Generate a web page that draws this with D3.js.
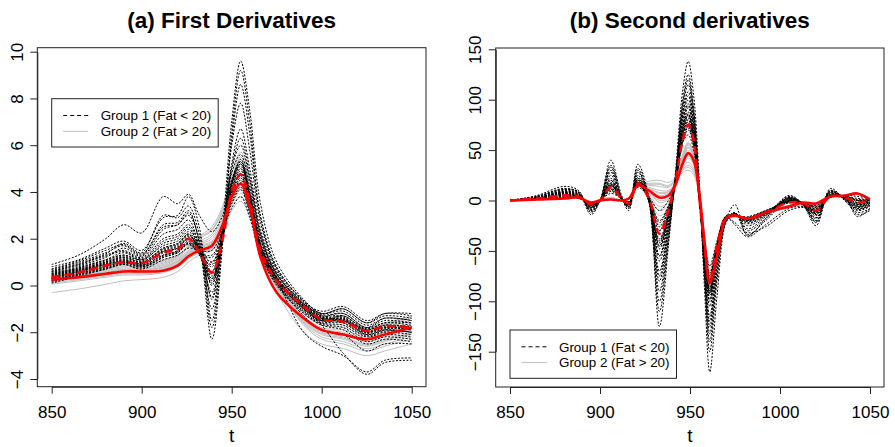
<!DOCTYPE html>
<html>
<head>
<meta charset="utf-8">
<script src="https://cdn.jsdelivr.net/npm/d3@7"></script>
<style>
  body { margin: 0; background: #fff; }
  svg { display: block; font-family: "Liberation Sans", Arial, Helvetica, sans-serif; }
</style>
</head>
<body>
<svg id="chart" width="895" height="447"></svg>
<script>
const T_FIRST = [850, 865, 880, 890, 900, 912, 920, 926, 932, 939, 945, 950, 955, 960, 966, 975, 990, 1000, 1012, 1025, 1035, 1050];
const T_SECOND = [850, 865, 880, 888, 895, 900, 906, 912, 916, 921, 927, 933, 938, 942, 946, 949, 952, 955, 958, 961, 965, 970, 975, 982, 992, 1005, 1013, 1020, 1028, 1036, 1043, 1050];

const X_TICKS = [850, 900, 950, 1000, 1050];
const Y_TICKS_FIRST = [-4, -2, 0, 2, 4, 6, 8, 10];
const Y_TICKS_SECOND = [-150, -100, -50, 0, 50, 100, 150];

// (a) first derivatives, group 1 (Fat < 20)
const FIRST_G1 = [
  [0.9, 1.3, 2.0, 2.6, 2.25, 3.8, 3.5, 3.9, 3.0, 2.3, 3.0, 4.5, 5.3, 3.8, 2.0, 0.5, -0.9, -1.7, -2.9, -3.8, -3.3, -3.2],
  [0.8, 1.1, 1.6, 1.9, 1.5, 2.9, 3.0, 3.8, 2.5, -1.5, 2.5, 7.0, 9.6, 7.5, 3.5, 1.0, -0.6, -1.2, -1.0, -1.6, -1.2, -1.3],
  [0.7, 1.0, 1.4, 1.7, 1.3, 2.6, 2.7, 3.2, 1.8, -2.3, 1.8, 6.5, 9.2, 7.0, 3.0, 0.8, -0.7, -1.3, -1.2, -1.8, -1.4, -1.5],
  [0.6, 0.9, 1.3, 1.5, 1.2, 2.2, 2.4, 2.8, 1.6, -1.0, 2.0, 5.2, 6.7, 5.0, 2.4, 0.6, -0.8, -1.4, -1.4, -2.0, -1.7, -1.8],
  [0.5, 0.8, 1.1, 1.4, 1.1, 1.9, 2.1, 2.5, 1.5, -0.3, 2.3, 4.8, 5.6, 4.2, 2.0, 0.4, -0.9, -1.5, -1.5, -2.1, -1.9, -2.0],
  [0.4, 0.7, 1.0, 1.2, 1.0, 1.6, 1.8, 2.2, 1.4, 0.3, 2.0, 4.2, 5.0, 3.7, 1.7, 0.3, -0.9, -1.4, -1.6, -2.2, -2.0, -2.1],
  [0.3, 0.6, 0.9, 1.1, 0.9, 1.4, 1.6, 2.0, 1.5, 0.8, 2.1, 3.9, 4.6, 3.4, 1.5, 0.2, -1.0, -1.5, -1.4, -2.0, -1.8, -1.9],
  [0.2, 0.5, 0.8, 1.0, 0.8, 1.2, 1.4, 1.8, 1.4, 1.2, 2.3, 3.6, 4.2, 3.2, 1.4, 0.1, -1.1, -1.6, -1.7, -2.3, -2.1, -2.2],
  [0.1, 0.4, 0.7, 0.9, 0.7, 1.1, 1.3, 1.6, 1.5, 1.5, 2.4, 3.3, 3.8, 2.9, 1.3, 0.0, -1.2, -1.7, -1.9, -2.5, -2.3, -2.4],
  [0.55, 0.85, 1.2, 1.6, 1.25, 2.4, 2.6, 3.0, 2.0, 0.0, 2.4, 5.0, 6.0, 4.5, 2.2, 0.5, -0.8, -1.2, -1.1, -1.7, -1.4, -1.5],
  [0.45, 0.75, 1.05, 1.3, 1.05, 1.8, 2.0, 2.4, 1.7, 0.6, 2.2, 4.4, 5.2, 3.9, 1.8, 0.3, -2.0, -2.6, -3.0, -3.7, -3.2, -3.1],
  [0.35, 0.65, 0.95, 1.15, 0.95, 1.5, 1.7, 2.1, 1.6, 1.0, 2.2, 4.0, 4.8, 3.6, 1.6, 0.2, -0.95, -1.4, -1.5, -2.1, -1.9, -2.0],
  [0.25, 0.55, 0.85, 1.05, 0.85, 1.3, 1.5, 1.9, 1.3, 0.2, 2.0, 4.3, 5.4, 4.0, 1.8, 0.3, -1.0, -1.5, -1.3, -1.9, -1.6, -1.6],
  [0.65, 0.95, 1.35, 1.8, 1.4, 3.0, 2.9, 3.4, 2.2, -0.6, 2.2, 6.0, 7.8, 5.8, 2.7, 0.7, -0.7, -1.1, -0.9, -1.5, -1.2, -1.2],
  [0.3, 0.6, 0.9, 1.05, 0.95, 1.45, 1.6, 2.05, 1.45, 0.4, 2.1, 4.1, 4.9, 3.7, 1.6, 0.25, -0.85, -1.35, -1.45, -1.9, -1.7, -1.75],
  [0.4, 0.65, 0.95, 1.2, 1.0, 1.55, 1.75, 2.2, 1.5, 0.1, 2.0, 4.5, 5.3, 3.9, 1.7, 0.3, -0.8, -1.3, -1.3, -1.85, -1.6, -1.7],
  [0.2, 0.45, 0.75, 0.95, 0.85, 1.3, 1.45, 1.85, 1.45, 1.0, 2.2, 3.8, 4.4, 3.3, 1.45, 0.15, -1.05, -1.55, -1.6, -2.15, -1.95, -2.0],
  [0.5, 0.75, 1.1, 1.3, 1.1, 1.7, 1.9, 2.3, 1.6, 0.5, 2.1, 4.3, 5.1, 3.8, 1.7, 0.35, -0.85, -1.35, -1.35, -1.95, -1.75, -1.85],
  [0.15, 0.45, 0.7, 0.9, 0.75, 1.2, 1.4, 1.75, 1.4, 1.3, 2.35, 3.5, 4.1, 3.1, 1.35, 0.05, -1.15, -1.65, -1.8, -2.4, -2.2, -2.3],
  [0.6, 0.9, 1.25, 1.45, 1.15, 2.0, 2.2, 2.6, 1.7, -0.5, 2.1, 5.0, 6.3, 4.7, 2.2, 0.5, -0.75, -1.25, -1.2, -1.8, -1.5, -1.6],
  [0.35, 0.6, 0.9, 1.1, 0.9, 1.45, 1.65, 2.0, 1.35, 0.6, 2.15, 4.0, 4.7, 3.5, 1.55, 0.2, -0.95, -1.45, -1.5, -2.05, -1.85, -1.9],
  [0.45, 0.7, 1.0, 1.25, 1.0, 1.6, 1.8, 2.15, 1.55, 0.3, 2.05, 4.3, 5.2, 3.9, 1.75, 0.3, -0.9, -1.4, -1.45, -2.0, -1.8, -1.85],
  [0.7, 1.05, 1.5, 1.75, 1.35, 2.5, 2.6, 3.1, 1.9, -1.8, 1.9, 6.2, 8.6, 6.5, 2.9, 0.75, -0.65, -1.2, -1.0, -1.6, -1.3, -1.4],
  [0.25, 0.5, 0.8, 1.0, 0.8, 1.25, 1.45, 1.8, 1.35, 0.9, 2.2, 3.8, 4.5, 3.4, 1.5, 0.15, -1.3, -1.9, -2.1, -2.8, -2.5, -2.5]
];

// (a) first derivatives, group 2 (Fat > 20)
const FIRST_G2 = [
  [0.6, 0.7, 0.9, 1.0, 0.9, 1.1, 1.3, 1.7, 2.1, 2.5, 3.4, 4.8, 5.7, 4.6, 2.2, 0.4, -0.9, -1.4, -1.5, -1.8, -1.6, -1.3],
  [0.45, 0.6, 0.75, 0.85, 0.8, 0.95, 1.2, 1.6, 1.9, 2.2, 3.1, 4.4, 5.2, 4.2, 2.0, 0.3, -1.1, -1.6, -1.7, -2.0, -1.8, -1.5],
  [0.35, 0.5, 0.65, 0.75, 0.7, 0.85, 1.1, 1.45, 1.75, 2.0, 2.8, 4.1, 4.8, 3.9, 1.8, 0.2, -1.3, -1.8, -1.9, -2.2, -2.0, -1.7],
  [0.25, 0.4, 0.55, 0.65, 0.62, 0.75, 1.0, 1.35, 1.6, 1.8, 2.6, 3.8, 4.4, 3.6, 1.6, 0.1, -1.4, -1.9, -2.1, -2.4, -2.2, -1.9],
  [0.15, 0.3, 0.45, 0.55, 0.55, 0.65, 0.9, 1.25, 1.5, 1.65, 2.4, 3.6, 4.1, 3.4, 1.4, 0.0, -1.6, -2.1, -2.3, -2.6, -2.4, -2.1],
  [0.05, 0.2, 0.35, 0.45, 0.45, 0.55, 0.8, 1.15, 1.4, 1.55, 2.2, 3.4, 3.8, 3.2, 1.3, -0.1, -1.7, -2.3, -2.5, -2.8, -2.6, -2.3],
  [-0.3, -0.15, 0.05, 0.2, 0.25, 0.35, 0.6, 1.0, 1.3, 1.5, 2.1, 3.2, 3.6, 3.0, 1.2, -0.3, -2.0, -2.5, -2.7, -3.0, -2.8, -2.5],
  [0.3, 0.45, 0.6, 0.7, 0.66, 0.8, 1.05, 1.4, 1.7, 1.9, 2.7, 3.9, 4.6, 3.7, 1.7, 0.15, -1.35, -1.85, -2.0, -2.3, -2.1, -1.8],
  [0.5, 0.65, 0.8, 0.9, 0.85, 1.0, 1.25, 1.65, 2.0, 2.35, 3.2, 4.5, 5.4, 4.4, 2.1, 0.35, -1.0, -1.5, -1.6, -1.9, -1.7, -1.4],
  [0.2, 0.35, 0.5, 0.6, 0.58, 0.7, 0.95, 1.3, 1.55, 1.7, 2.5, 3.7, 4.3, 3.5, 1.5, 0.05, -1.5, -2.0, -2.2, -2.5, -2.3, -2.0],
  [0.4, 0.55, 0.7, 0.8, 0.75, 0.9, 1.15, 1.5, 1.8, 2.1, 2.9, 4.2, 5.0, 4.0, 1.9, 0.25, -1.2, -1.7, -1.8, -2.1, -1.9, -1.6],
  [0.3, 0.42, 0.58, 0.68, 0.64, 0.78, 1.02, 1.38, 1.65, 1.85, 2.65, 3.85, 4.5, 3.65, 1.65, 0.1, -1.45, -1.95, -2.05, -2.35, -2.15, -1.85],
  [0.1, 0.25, 0.4, 0.5, 0.5, 0.6, 0.85, 1.2, 1.45, 1.6, 2.3, 3.5, 3.95, 3.3, 1.35, -0.05, -1.65, -2.2, -2.4, -2.7, -2.5, -2.2],
  [0.55, 0.68, 0.85, 0.95, 0.88, 1.05, 1.28, 1.68, 2.05, 2.4, 3.3, 4.6, 5.5, 4.5, 2.15, 0.4, -0.95, -1.45, -1.55, -1.85, -1.65, -1.35],
  [0.2, 0.32, 0.48, 0.58, 0.56, 0.68, 0.92, 1.28, 1.52, 1.7, 2.45, 3.65, 4.2, 3.45, 1.45, 0.0, -1.55, -2.05, -2.25, -2.55, -2.35, -2.05]
];

const FIRST_MEAN_G1 = [0.35, 0.55, 0.85, 1.0, 0.95, 1.4, 1.55, 2.0, 1.4, 0.55, 2.0, 4.0, 4.75, 3.6, 1.5, 0.2, -0.9, -1.45, -1.55, -1.95, -1.75, -1.8];
const FIRST_MEAN_G2 = [0.25, 0.35, 0.5, 0.6, 0.6, 0.63, 0.85, 1.25, 1.5, 1.7, 2.6, 3.8, 4.35, 3.4, 1.2, -0.3, -1.4, -1.9, -2.1, -2.3, -2.1, -1.8];

// (b) second derivatives, group 1 (Fat < 20)
const SECOND_G1 = [
  [0, 5, 14, 10, -12, 0, 40, 5, -8, 36, 5, -125, -45, 30, 110, 138, 105, 25, -85, -170, -95, -20, -4, -35, -18, 5, -5, -25, 12, 0, -12, -8],
  [0, 4, 12, 8, -14, 0, 35, 3, -10, 30, 0, -110, -40, 25, 100, 125, 92, 18, -75, -150, -80, -22, -12, -34, -20, 0, -5, -22, 10, 0, -10, -6],
  [0, 3, 10, 7, -10, 0, 28, 2, -6, 25, 2, -90, -32, 25, 92, 115, 85, 15, -68, -132, -70, -20, -12, -28, -16, 3, -4, -18, 9, 2, -8, -4],
  [0, 3, 9, 6, -8, 0, 22, 2, -5, 22, 0, -70, -25, 22, 84, 100, 76, 11, -60, -115, -60, -18, -13, -22, -14, 4, -3, -15, 8, 3, -6, -3],
  [0, 2, 8, 5, -6, 0, 18, 1, -4, 20, 0, -55, -20, 20, 78, 94, 70, 8, -55, -100, -55, -18, -14, -20, -12, 2, -3, -12, 6, 3, -4, -2],
  [0, 2, 7, 4, -5, 0, 15, 1, -3, 18, 1, -40, -14, 20, 72, 85, 65, 5, -50, -90, -50, -17, -14, -19, -12, 0, -3, -10, 5, 3, -2, -1],
  [0, 1, 5, 3, -4, 0, 12, 2, -2, 16, 2, -30, -9, 18, 66, 78, 60, 5, -46, -80, -45, -16, -15, -18, -11, -2, -3, -8, 4, 4, 0, 0],
  [0, 1, 4, 3, -3, 0, 10, 2, -2, 15, 3, -20, -5, 18, 62, 72, 55, 3, -42, -72, -42, -16, -15, -17, -10, -1, -2, -6, 3, 4, 2, 1],
  [0, 1, 3, 2, -2, 0, 7, 2, -1, 13, 4, -10, 0, 18, 58, 65, 50, 3, -40, -65, -40, -15, -15, -16, -10, -2, -3, -5, 3, 5, 4, 2],
  [0, 4, 11, 8, -9, 0, 30, 3, -6, 28, 3, -80, -28, 22, 88, 108, 80, 12, -64, -125, -66, -19, -13, -25, -15, 2, -4, -20, 9, 1, -8, -5],
  [0, 2, 8, 5, -7, 0, 20, 1, -4, 21, 1, -60, -22, 21, 80, 96, 72, 8, -57, -105, -56, -17, -14, -21, -13, 1, -3, -14, 7, 2, -5, -2],
  [0, 2, 6, 4, -5, 0, 14, 2, -3, 17, 1, -45, -16, 20, 74, 88, 64, 6, -51, -92, -50, -17, -24, -36, -24, -8, -6, -12, 6, 3, -14, -10],
  [0, 2, 6, 4, -4, 0, 15, 2, -3, 18, 2, -38, -12, 20, 64, 80, 62, 6, -48, -86, -48, -17, -15, -18, -12, -1, -3, -10, 5, 3, 0, 0],
  [0, 2, 5, 4, -4, 0, 12, 2, -3, 17, 3, -30, -9, 19, 60, 74, 58, 5, -45, -80, -46, -16, -15, -18, -12, -2, -3, -9, 4, 4, -2, 0],
  [0, 3, 7, 5, -5, 0, 17, 2, -4, 19, 2, -45, -15, 21, 70, 86, 66, 7, -50, -92, -50, -17, -14, -19, -12, 0, -3, -11, 5, 3, -3, -1],
  [0, 1, 4, 3, -3, 0, 9, 2, -2, 15, 3, -22, -6, 18, 58, 70, 55, 4, -42, -75, -44, -16, -15, -17, -11, -1, -2, -7, 4, 4, 1, 1],
  [0, 2, 6, 4, -5, 0, 16, 2, -3, 18, 2, -42, -14, 20, 66, 82, 63, 6, -48, -88, -48, -17, -15, -19, -12, -1, -3, -11, 5, 3, -4, -1],
  [0, 3, 8, 6, -6, 0, 20, 2, -4, 20, 1, -55, -18, 21, 75, 92, 70, 8, -54, -98, -52, -18, -14, -20, -13, 1, -3, -13, 6, 3, -6, -2],
  [0, 1, 5, 3, -3, 0, 11, 2, -2, 16, 3, -26, -8, 19, 62, 76, 58, 5, -44, -78, -45, -16, -15, -18, -11, -2, -3, -8, 4, 4, 0, 0],
  [0, 3, 9, 7, -7, 0, 25, 2, -5, 23, 1, -75, -26, 22, 86, 104, 78, 11, -62, -120, -63, -18, -13, -23, -14, 3, -4, -17, 8, 2, -7, -3],
  [0, 2, 7, 5, -5, 0, 16, 1, -3, 18, 2, -48, -16, 20, 70, 84, 64, 6, -52, -94, -50, -17, -22, -32, -26, -10, -7, -13, 5, 3, -16, -8],
  [0, 4, 11, 9, -11, 0, 33, 3, -7, 32, 3, -100, -36, 24, 96, 120, 88, 16, -72, -140, -75, -21, -12, -30, -18, 2, -5, -21, 10, 1, -9, -5]
];

// (b) second derivatives, group 2 (Fat > 20)
const SECOND_G2 = [
  [0, 1, 2, 2, -1, 0, 1, 0, 2, 14, 19, 20, 18, 22, 30, 33, 28, 6, -34, -68, -50, -17, -15, -17, -11, -5, -2, -3, 4, 5, 7, 1],
  [0, 1, 2, 3, -1, 0, 1, 0, 2, 14, 15, 14, 13, 20, 33, 38, 32, 8, -36, -72, -50, -17, -15, -17, -11, -5, -2, -3, 4, 5, 7, 2],
  [0, 1, 2, 3, -2, 0, 1, 0, 2, 15, 12, 8, 9, 18, 36, 44, 37, 9, -38, -76, -52, -18, -15, -18, -12, -6, -3, -4, 4, 5, 7, 1],
  [0, 1, 3, 3, -2, 0, 2, 0, 2, 15, 10, 2, 4, 16, 38, 50, 42, 10, -40, -82, -56, -18, -15, -18, -12, -6, -3, -4, 4, 5, 7, 1],
  [0, 1, 3, 3, -2, 0, 2, 0, 2, 16, 7, -6, -2, 15, 42, 55, 46, 11, -42, -86, -58, -18, -16, -19, -12, -6, -3, -5, 4, 5, 6, 1],
  [0, 1, 3, 4, -3, 0, 3, 0, 2, 17, 3, -15, -8, 14, 45, 58, 48, 12, -44, -90, -60, -19, -16, -19, -13, -7, -3, -5, 4, 4, 6, 0],
  [0, 1, 3, 4, -3, 0, 3, 0, 1, 17, 0, -24, -14, 13, 46, 56, 47, 12, -45, -92, -62, -19, -16, -20, -13, -7, -4, -6, 4, 4, 6, 0],
  [0, 1, 2, 3, -2, 0, 1, 0, 2, 14, 17, 17, 15, 21, 28, 30, 26, 5, -33, -65, -48, -16, -15, -17, -11, -5, -2, -3, 4, 5, 7, 2],
  [0, 1, 2, 3, -2, 0, 2, 0, 2, 15, 11, 5, 7, 17, 37, 47, 40, 9, -39, -79, -54, -18, -15, -18, -12, -6, -3, -4, 4, 5, 7, 1],
  [0, 1, 3, 3, -2, 0, 2, 0, 2, 16, 9, -2, 1, 15, 40, 52, 44, 10, -41, -84, -57, -18, -15, -18, -12, -6, -3, -4, 4, 5, 7, 1],
  [0, 1, 2, 3, -2, 0, 1, 0, 2, 15, 13, 10, 10, 18, 35, 42, 36, 8, -37, -74, -51, -17, -15, -18, -11, -5, -2, -3, 4, 5, 7, 1],
  [0, 1, 3, 3, -2, 0, 2, 0, 2, 16, 8, 0, 2, 15, 41, 53, 45, 10, -41, -85, -57, -18, -15, -18, -12, -6, -3, -4, 4, 5, 7, 1],
  [0, 1, 2, 3, -2, 0, 1, 0, 2, 14, 16, 16, 14, 20, 31, 35, 30, 7, -35, -70, -49, -17, -15, -17, -11, -5, -2, -3, 4, 5, 7, 2],
  [0, 1, 3, 4, -3, 0, 3, 0, 2, 17, 5, -10, -5, 14, 44, 57, 47, 11, -43, -88, -59, -19, -16, -19, -13, -7, -3, -5, 4, 4, 6, 0],
  [0, 1, 2, 3, -2, 0, 1, 0, 2, 15, 12, 7, 8, 17, 36, 45, 38, 9, -38, -77, -53, -18, -15, -18, -12, -6, -3, -4, 4, 5, 7, 1]
];

const SECOND_MEAN_G1 = [0, 2, 5, 4, -4, 0, 13, 2, -3, 17, 3, -33, -10, 20, 60, 75, 60, 6, -45, -82, -45, -17, -15, -18, -12, -2, -3, -10, 4, 3, -2, 0];
const SECOND_MEAN_G2 = [0, 1, 2, 3, -2, 0, 1, 0, 2, 15, 10, 3, 5, 16, 37, 47, 40, 10, -40, -82, -55, -18, -15, -18, -12, -6, -2, -3, 4, 5, 7, 1];

const LEGEND_LABELS = ["Group 1 (Fat < 20)", "Group 2 (Fat > 20)"];

const panels = [
  {
    title: "(a) First Derivatives", t: T_FIRST, g1: FIRST_G1, g2: FIRST_G2,
    m1: FIRST_MEAN_G1, m2: FIRST_MEAN_G2, yTicks: Y_TICKS_FIRST,
    yDomain: [-4, 10], xRange: [51.7, 411.7], yRange: [379, 51.7],
    box: { x0: 37.3, x1: 426, y0: 47.7, y1: 386.7 },
    legend: { x: 51.7, y: 98.7 }
  },
  {
    title: "(b) Second derivatives", t: T_SECOND, g1: SECOND_G1, g2: SECOND_G2,
    m1: SECOND_MEAN_G1, m2: SECOND_MEAN_G2, yTicks: Y_TICKS_SECOND,
    yDomain: [-150, 150], xRange: [510, 870], yRange: [351.7, 49.3],
    box: { x0: 495.7, x1: 884, y0: 48, y1: 387 },
    legend: { x: 510, y: 330 }
  }
];

const svg = d3.select("#chart");
const fmt = d => d < 0 ? "\u2212" + Math.abs(d) : String(d);

function drawPanel(p) {
  const x = d3.scaleLinear().domain([850, 1050]).range(p.xRange);
  const y = d3.scaleLinear().domain(p.yDomain).range(p.yRange);
  const g = svg.append("g");

  const line = d3.line()
    .x((d, i) => x(p.t[i]))
    .y(d => y(d))
    .curve(d3.curveCatmullRom.alpha(0.5));

  // grey group 2 first, then black dotted group 1, then the means
  g.selectAll("path.g2").data(p.g2).join("path")
    .attr("class", "g2")
    .attr("d", line)
    .attr("fill", "none")
    .attr("stroke", "#bebebe")
    .attr("stroke-width", 1);

  g.selectAll("path.g1").data(p.g1).join("path")
    .attr("class", "g1")
    .attr("d", line)
    .attr("fill", "none")
    .attr("stroke", "#000")
    .attr("stroke-width", 1)
    .attr("stroke-dasharray", "2,1.5");

  g.append("path").attr("d", line(p.m2))
    .attr("fill", "none").attr("stroke", "#ff0000").attr("stroke-width", 2.6);
  g.append("path").attr("d", line(p.m1))
    .attr("fill", "none").attr("stroke", "#ff0000").attr("stroke-width", 2.6)
    .attr("stroke-dasharray", "8,5");

  // box
  const b = p.box;
  g.append("rect")
    .attr("x", b.x0).attr("y", b.y0)
    .attr("width", b.x1 - b.x0).attr("height", b.y1 - b.y0)
    .attr("fill", "none").attr("stroke", "#222").attr("stroke-width", 1);

  // x axis
  const xa = g.append("g").attr("transform", `translate(0,${b.y1})`)
    .call(d3.axisBottom(x).tickValues(X_TICKS).tickSize(7).tickSizeOuter(0).tickFormat(d => d));
  xa.select(".domain").attr("stroke", "#222");
  xa.selectAll(".tick line").attr("stroke", "#222");
  xa.selectAll(".tick text")
    .attr("y", 31).attr("dy", 0)
    .attr("font-size", 17).attr("fill", "#000")
    .attr("font-family", '"Liberation Sans", Arial, sans-serif');

  // y axis
  const ya = g.append("g").attr("transform", `translate(${b.x0},0)`)
    .call(d3.axisLeft(y).tickValues(p.yTicks).tickSize(7).tickSizeOuter(0).tickFormat(fmt));
  ya.select(".domain").attr("stroke", "#222");
  ya.selectAll(".tick line").attr("stroke", "#222");
  ya.selectAll(".tick text")
    .attr("transform", "rotate(-90)")
    .attr("x", 0).attr("y", -14.5).attr("dy", 0)
    .attr("text-anchor", "middle")
    .attr("font-size", 17).attr("fill", "#000")
    .attr("font-family", '"Liberation Sans", Arial, sans-serif');

  // titles
  const cx = (b.x0 + b.x1) / 2;
  g.append("text")
    .attr("x", cx).attr("y", 28)
    .attr("text-anchor", "middle")
    .attr("font-size", 22.5).attr("font-weight", "bold")
    .text(p.title);

  g.append("text")
    .attr("x", cx).attr("y", 442)
    .attr("text-anchor", "middle")
    .attr("font-size", 19)
    .text("t");

  // legend
  const L = p.legend;
  const lg = g.append("g").attr("transform", `translate(${L.x},${L.y})`);
  lg.append("rect")
    .attr("width", 166.5).attr("height", 48.3)
    .attr("fill", "#fff").attr("stroke", "#222").attr("stroke-width", 1);
  const rows = lg.selectAll("g.row").data(LEGEND_LABELS).join("g")
    .attr("class", "row")
    .attr("transform", (d, i) => `translate(0,${16.8 + i * 15.8})`);
  rows.append("line")
    .attr("x1", 11.5).attr("x2", 36.5)
    .attr("stroke", (d, i) => i === 0 ? "#000" : "#bebebe")
    .attr("stroke-width", 1)
    .attr("stroke-dasharray", (d, i) => i === 0 ? "4,3" : null);
  rows.append("text")
    .attr("x", 49)
    .attr("dy", "0.35em")
    .attr("font-size", 13.4)
    .text(d => d);
}

panels.forEach(drawPanel);
</script>
</body>
</html>
